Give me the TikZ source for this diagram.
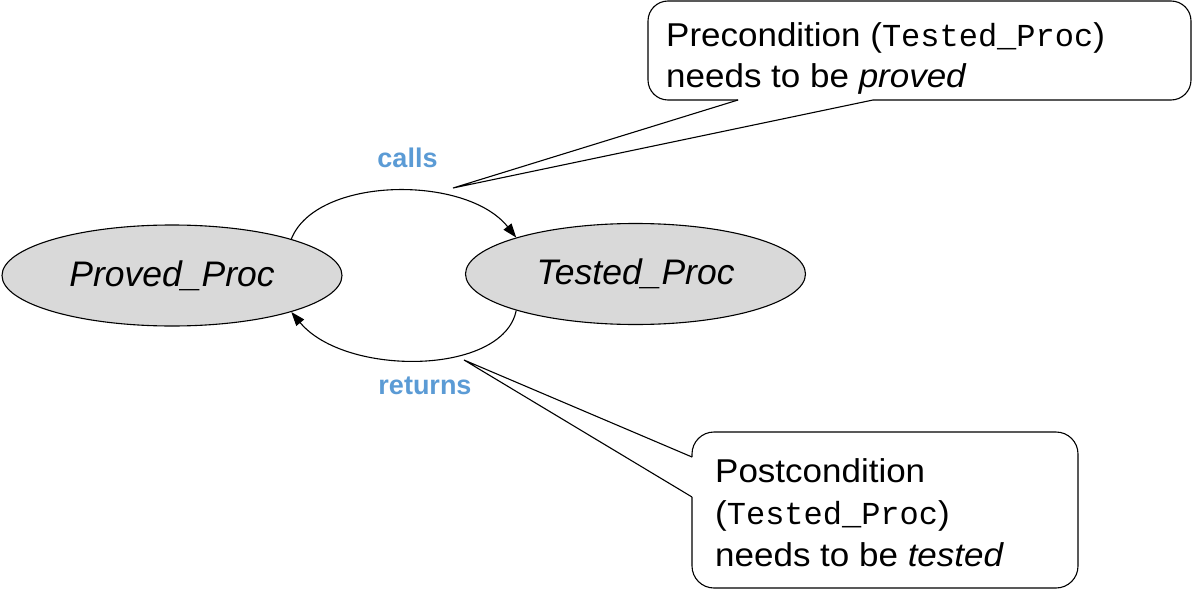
\documentclass[tikz,border=0pt]{standalone}
\usepackage{fontspec}
\setmainfont{Liberation Sans}
\setmonofont{Liberation Mono}
\newfontfamily\callfont{Liberation Sans}[FakeStretch=1.06]
\usetikzlibrary{shapes.geometric,arrows.meta}
\definecolor{procgray}{HTML}{D9D9D9}
\definecolor{lblblue}{HTML}{5B9BD5}
\newcommand{\monotxt}[1]{{\ttfamily\fontsize{32}{40}\selectfont #1}}
\tikzset{
  proc/.style={ellipse, draw=black, fill=procgray, line width=1.1pt,
    minimum width=340pt, minimum height=101pt, inner sep=0pt,
    font=\fontsize{35.5}{40}\selectfont\itshape},
  conn/.style={line width=1.1pt, -{Triangle[length=14pt,width=10pt]}},
  lbl/.style={text=lblblue, inner sep=0pt, font=\fontsize{27}{32}\selectfont\bfseries},
  callline/.style={line width=1.1pt, line join=miter},
  calltxt/.style={anchor=base west, inner sep=0pt, font=\callfont\fontsize{33}{40}\selectfont}
}
\begin{document}
\begin{tikzpicture}[x=1pt,y=-1pt]
\useasboundingbox (0,0) rectangle (1193,591);

% procedures
\node[proc] (proved) at (172,275.5) {Proved\_Proc};
\node[proc] (tested) at (635.5,274) {Tested\_Proc};

% connectors
\draw[conn] (proved.17) .. controls +(25,-63) and +(-50,-63) .. (tested.163);
\draw[conn] (tested.197) .. controls +(-13,65) and +(54,65) .. (proved.343);

% labels
\node[lbl] (calls) at (407.5,158) {calls};
\node[lbl] (returns) at (425,386) {returns};

% top callout
\coordinate (pretip) at (453,188);
\coordinate (preb1) at (738,100);
\coordinate (preb2) at (873,100);
\draw[callline, rounded corners=20pt] (preb2) -- (1191,100) -- (1191,1) -- (648,1) -- (648,100) -- (preb1);
\draw[callline] (preb1) -- (pretip) -- (preb2);
\node[calltxt] (pre1) at (666,47) {Precondition (\monotxt{Tested\_Proc})};
\node[calltxt] (pre2) at (666,88) {needs to be \textit{proved}};

% bottom callout
\coordinate (posttip) at (464,360);
\coordinate (postb1) at (692,457);
\coordinate (postb2) at (692,497);
\draw[callline, rounded corners=22pt] (postb1) -- (692,432) -- (1078,432) -- (1078,588) -- (692,588) -- (postb2);
\draw[callline] (postb1) -- (posttip) -- (postb2);
\node[calltxt] (post1) at (715,482) {Postcondition};
\node[calltxt] (post2) at (715,524) {(\monotxt{Tested\_Proc})};
\node[calltxt] (post3) at (715,566) {needs to be \textit{tested}};
\end{tikzpicture}
\end{document}
